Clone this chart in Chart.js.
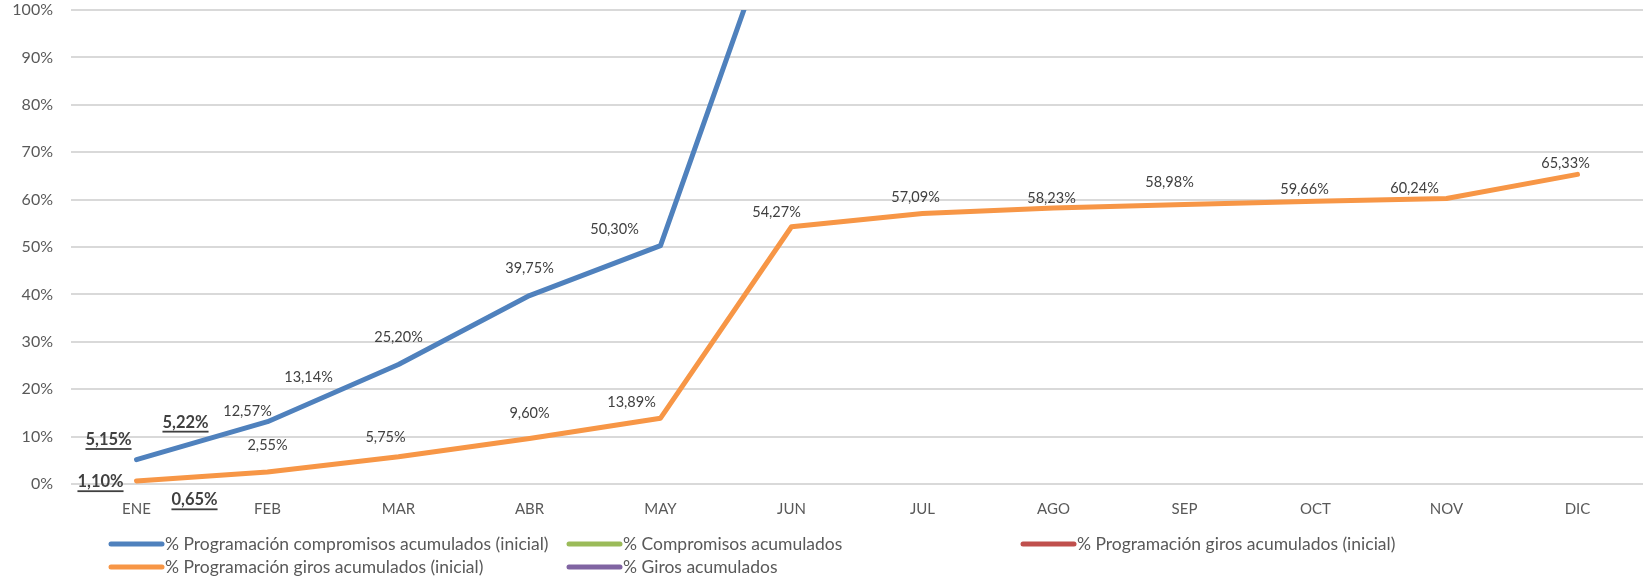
<!DOCTYPE html>
<html>
<head>
<meta charset="utf-8">
<script src="https://cdn.jsdelivr.net/npm/chart.js@4/dist/chart.umd.min.js"></script>
<style>
  html, body { margin: 0; padding: 0; background: #ffffff; }
  #wrap { width: 1647px; height: 578px; }
</style>
</head>
<body>
<div id="wrap"><canvas id="avanceChart" width="1647" height="578"></canvas></div>
<script>
// Chart data (values in %)
const months = ['ENE', 'FEB', 'MAR', 'ABR', 'MAY', 'JUN', 'JUL', 'AGO', 'SEP', 'OCT', 'NOV', 'DIC'];
const progCompromisos = [5.15, 13.14, 25.20, 39.75, 50.30, 128.4];
const compromisos = [5.22, 12.57];
const progGirosRojo = [];
const progGiros = [0.65, 2.55, 5.75, 9.60, 13.89, 54.27, 57.09, 58.23, 58.98, 59.66, 60.24, 65.33];
const giros = [1.10];
const yTicks = [0, 10, 20, 30, 40, 50, 60, 70, 80, 90, 100];

// label offsets from each point (px), the way Excel left them
const labelOffsets = [
    [[-28, -20], [41, -44], [0, -27], [0, -27], [-46, -16]],
    [[49, -37], [-20, -13]],
    [],
    [[58, 19], [0, -27], [-13, -19], [0, -25], [-29, -16], [-15, -14], [-7, -16], [-2, -10], [-15, -22], [-11, -12], [-32, -10], [-12, -11]],
    [[-36, 3]]
];

const FONT = 'Lato, "Liberation Sans", sans-serif';
const TEXT = '#595959';

/* Data labels: ENE ones are bold + underlined like in the source sheet */
const dataLabels = {
    id: 'dataLabels',
    afterDatasetsDraw(chart) {
        const ctx = chart.ctx;
        ctx.save();
        ctx.textAlign = 'center';
        ctx.textBaseline = 'middle';
        chart.data.datasets.forEach((ds, i) => {
            const meta = chart.getDatasetMeta(i);
            const offs = labelOffsets[i] || [];
            ds.data.forEach((v, j) => {
                const off = offs[j];
                if (v == null || !off || !meta.data[j]) return;
                const x = meta.data[j].x + off[0];
                const y = meta.data[j].y + off[1];
                const txt = v.toFixed(2).replace('.', ',') + '%';
                const bold = j === 0;
                ctx.font = (bold ? 'bold 16.5px ' : '14.5px ') + FONT;
                ctx.fillStyle = '#404040';
                ctx.fillText(txt, x, y);
                if (bold) {
                    const w = ctx.measureText(txt).width;
                    ctx.fillRect(x - w / 2, y + 8.5, w, 1.8);
                }
            });
        });
        ctx.restore();
    }
};

/* Legend in fixed columns (3 per row) */
const gridLegend = {
    id: 'gridLegend',
    afterDraw(chart) {
        const ctx = chart.ctx;
        const cols = [109, 567, 1021];
        const rows = [544, 567];
        ctx.save();
        ctx.font = '17.5px ' + FONT;
        ctx.textBaseline = 'middle';
        ctx.textAlign = 'left';
        chart.data.datasets.forEach((ds, i) => {
            const x = cols[i % 3];
            const y = rows[Math.floor(i / 3)];
            ctx.strokeStyle = ds.borderColor;
            ctx.lineWidth = 5;
            ctx.lineCap = 'round';
            ctx.beginPath();
            ctx.moveTo(x + 2, y);
            ctx.lineTo(x + 53, y);
            ctx.stroke();
            ctx.fillStyle = TEXT;
            ctx.fillText(ds.label, x + 56, y);
        });
        ctx.restore();
    }
};

function lineSet(label, data, color, visible) {
    return {
        label: label,
        data: data,
        borderColor: color,
        backgroundColor: color,
        borderWidth: 5,
        borderCapStyle: 'round',
        borderJoinStyle: 'round',
        pointRadius: 0,
        pointHoverRadius: 0,
        tension: 0,
        showLine: visible,
        clip: { left: 6, right: 6, top: 0, bottom: 6 }
    };
}

new Chart(document.getElementById('avanceChart'), {
    type: 'line',
    data: {
        labels: months,
        datasets: [
            lineSet('% Programación compromisos acumulados (inicial)', progCompromisos, '#4f81bd', true),
            lineSet('% Compromisos acumulados', compromisos, '#9bbb59', false),
            lineSet('% Programación giros acumulados (inicial)', progGirosRojo, '#c0504d', true),
            lineSet('% Programación giros acumulados (inicial)', progGiros, '#f79646', true),
            lineSet('% Giros acumulados', giros, '#8064a2', false)
        ]
    },
    options: {
        responsive: false,
        animation: false,
        layout: { padding: { top: 10, right: 4, left: 0, bottom: 0 } },
        plugins: {
            legend: { display: false },
            tooltip: { enabled: false }
        },
        scales: {
            x: {
                offset: true,
                grid: { display: false },
                border: { display: false },
                ticks: { color: TEXT, font: { family: FONT, size: 15 }, padding: 8, maxRotation: 0 },
                afterFit(scale) { scale.height = 94; }
            },
            y: {
                min: 0,
                max: 100,
                afterBuildTicks(scale) { scale.ticks = yTicks.map(v => ({ value: v })); },
                grid: { color: '#d9d9d9', lineWidth: 2, drawTicks: false },
                border: { display: false },
                ticks: {
                    color: TEXT,
                    font: { family: FONT, size: 16 },
                    padding: 18,
                    callback: v => v + '%'
                },
                afterFit(scale) {
                    scale.width = 71;
                    scale.paddingTop = 0;
                    scale.paddingBottom = 0;
                }
            }
        }
    },
    plugins: [dataLabels, gridLegend]
});
</script>
</body>
</html>
